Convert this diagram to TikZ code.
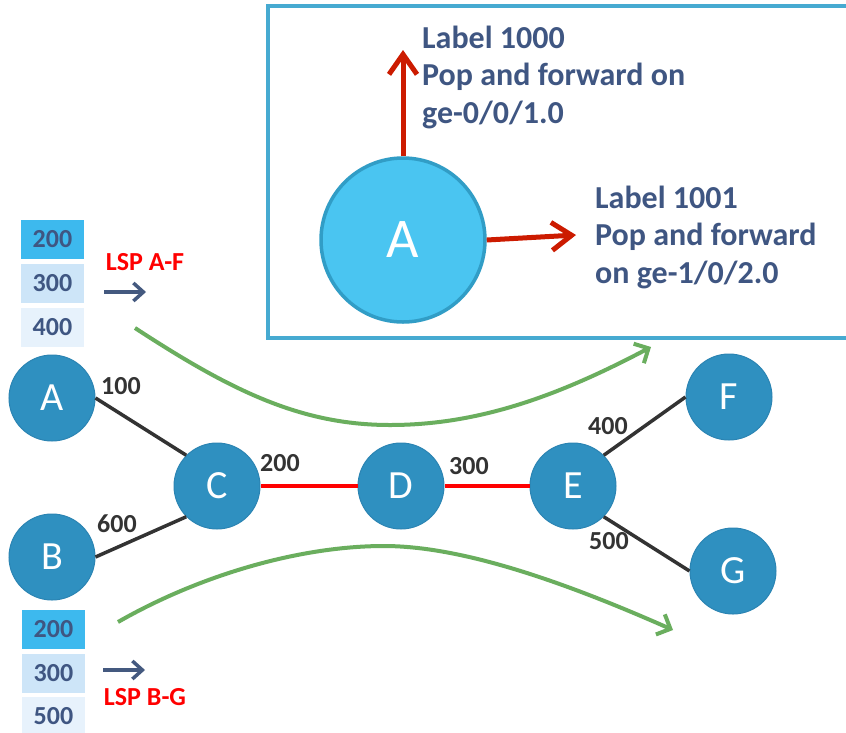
\documentclass[tikz,border=0pt]{standalone}
\usepackage{fontspec}
\setmainfont{Carlito}
\usetikzlibrary{arrows.meta}
\definecolor{netblue}{HTML}{2F90C0}
\definecolor{netborder}{HTML}{2B84B3}
\definecolor{bigfill}{HTML}{4AC5F1}
\definecolor{bigborder}{HTML}{319DC6}
\definecolor{boxborder}{HTML}{46AAD1}
\definecolor{txtblue}{HTML}{3F5682}
\definecolor{darkred}{HTML}{CC1B00}
\definecolor{lspred}{HTML}{FF0000}
\definecolor{edgegray}{HTML}{333333}
\definecolor{grn}{HTML}{6AAE5E}
\definecolor{stkA}{HTML}{3DB9EE}
\definecolor{stkB}{HTML}{CDE5F8}
\definecolor{stkC}{HTML}{E7F2FC}
\definecolor{arrblue}{HTML}{44597F}
\begin{document}
\begin{tikzpicture}[x=1pt,y=-1pt,
  netnode/.style={circle,minimum size=86pt,inner sep=0pt,fill=netblue,draw=netborder,line width=1pt,
    text=white,font=\fontsize{40}{42}\selectfont},
  bignode/.style={circle,minimum size=164pt,inner sep=0pt,fill=bigfill,draw=bigborder,line width=3.5pt,
    text=white,font=\fontsize{56}{58}\selectfont},
  elabel/.style={inner sep=0pt,text=edgegray,font=\bfseries\fontsize{26}{28}\selectfont},
  stk/.style={minimum width=63pt,minimum height=39pt,inner sep=0pt,text=txtblue,
    font=\bfseries\fontsize{26}{28}\selectfont},
  lsp/.style={inner sep=0pt,text=lspred,font=\bfseries\fontsize{26}{28}\selectfont},
  infotext/.style={inner sep=0pt,text=txtblue,align=left,anchor=base west,
    font=\bfseries\fontsize{32}{37.5}\selectfont},
  blk/.style={draw=edgegray,line width=3.5pt},
  redlink/.style={draw=lspred,line width=4pt},
  redarrow/.style={draw=darkred,line width=5pt,-{Straight Barb[length=20pt,width=28pt,line width=5pt]}},
  smallarrow/.style={draw=arrblue,line width=3.5pt,-{Straight Barb[length=10pt,width=18pt,line width=3.5pt]}},
  grnarrow/.style={draw=grn,line width=4pt,-{Straight Barb[length=11pt,width=22pt,line width=4pt]}}
]
\useasboundingbox (0,0) rectangle (846,732);
\fill[white] (0,0) rectangle (846,732);

% top info box
\draw[boxborder,line width=3.5pt] (268,6) rectangle (860,338);
\node[bignode] (Abig) at (403,240) {A};
\coordinate (upend) at (403,50);
\coordinate (rtend) at (576,235);
\draw[redarrow] (Abig.north) -- (upend);
\draw[redarrow] (Abig.east) -- (rtend);
\node[infotext] (t1) at (422,123) {Label 1000\\Pop and forward on\\ge-0/0/1.0};
\node[infotext] (t2) at (595,283) {Label 1001\\Pop and forward\\on ge-1/0/2.0};

% label stacks
\node[stk,fill=stkA] (sa1) at (52.5,239.5) {200};
\node[stk,fill=stkB] (sa2) at (52.5,283.5) {300};
\node[stk,fill=stkC] (sa3) at (52.5,327) {400};
\node[stk,fill=stkA] (sb1) at (53.5,629.5) {200};
\node[stk,fill=stkB] (sb2) at (53.5,673.5) {300};
\node[stk,fill=stkC] (sb3) at (53.5,716) {500};

\node[lsp] (lspaf) at (145,262) {LSP A-F};
\node[lsp] (lspbg) at (145,697) {LSP B-G};
\coordinate (saS) at (104,292);
\coordinate (saE) at (146,292);
\coordinate (sbS) at (103,670);
\coordinate (sbE) at (145,670);
\draw[smallarrow] (saS) -- (saE);
\draw[smallarrow] (sbS) -- (sbE);

% network
\node[netnode] (A) at (52,398) {A};
\node[netnode] (B) at (52,557) {B};
\node[netnode] (C) at (217,486) {C};
\node[netnode] (D) at (401,486) {D};
\node[netnode] (E) at (573,486) {E};
\node[netnode] (F) at (729,397) {F};
\node[netnode] (G) at (733,571) {G};

\draw[blk] (A.east) -- (C.north west);
\draw[blk] (B.east) -- (C.south west);
\draw[redlink] (C) -- (D);
\draw[redlink] (D) -- (E);
\draw[blk] (E.north east) -- (F.west);
\draw[blk] (E.south east) -- (G.west);

\node[elabel] (l100) at (121,386) {100};
\node[elabel] (l600) at (117,524) {600};
\node[elabel] (l200) at (280,463) {200};
\node[elabel] (l300) at (469,466) {300};
\node[elabel] (l400) at (608,426) {400};
\node[elabel] (l500) at (609,541) {500};

% LSP paths
\coordinate (g1s) at (135,328);
\coordinate (g1m) at (390,425);
\coordinate (g1e) at (651,347);
\coordinate (g2s) at (118,622);
\coordinate (g2m) at (384,546);
\coordinate (g2e) at (673,630);
\draw[grnarrow] (g1s) .. controls (230,390) and (300,425) .. (g1m) .. controls (480,425) and (560,395) .. (g1e);
\draw[grnarrow] (g2s) .. controls (200,575) and (300,546) .. (g2m) .. controls (460,546) and (560,580) .. (g2e);
\end{tikzpicture}
\end{document}
